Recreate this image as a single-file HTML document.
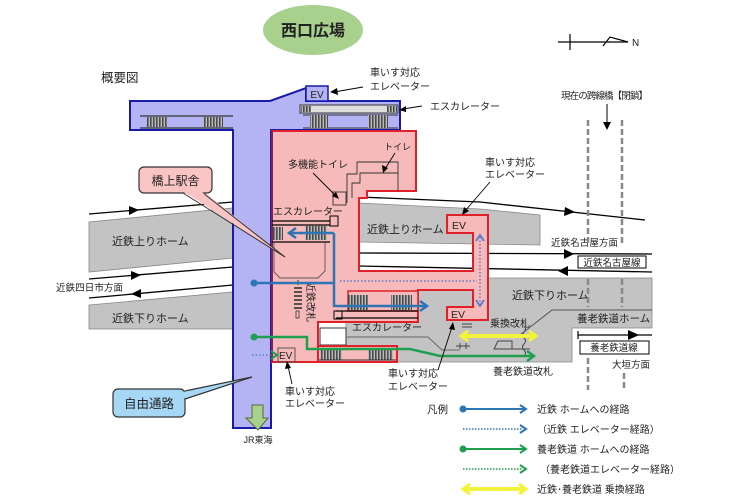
<!DOCTYPE html>
<html><head><meta charset="utf-8"><style>
html,body{margin:0;padding:0;background:#fff;}
svg{display:block;}
text{font-family:"Liberation Sans","Noto Sans CJK JP",sans-serif;fill:#222;}
</style></head><body>
<svg width="743" height="498" viewBox="0 0 743 498" xmlns="http://www.w3.org/2000/svg">
<defs>
<pattern id="hv" width="3" height="4" patternUnits="userSpaceOnUse"><rect width="3" height="4" fill="#bbb"/><rect width="1.6" height="4" fill="#4a4a4a"/></pattern>
</defs>

<!-- title ellipse -->
<ellipse cx="313" cy="30" rx="50" ry="25" fill="#a9d18e"/>
<text x="313" y="36" font-size="16" text-anchor="middle" font-weight="bold">西口広場</text>
<text x="101" y="82" font-size="12.5">概要図</text>

<!-- north arrow -->
<line x1="558" y1="42" x2="628" y2="42" stroke="#000" stroke-width="1.2"/>
<line x1="570" y1="34" x2="570" y2="50" stroke="#000" stroke-width="1.2"/>
<polyline points="603,46 610,37 628,42" fill="none" stroke="#000" stroke-width="1.2"/>
<text x="632" y="46" font-size="10">N</text>

<!-- closed bridge -->
<text x="561" y="99" font-size="9.5" textLength="87">現在の跨線橋【閉鎖】</text>
<line x1="607" y1="104" x2="607" y2="124" stroke="#000" stroke-width="1"/>
<polygon points="603,122 611,122 607,130" fill="#000"/>

<!-- left platforms -->
<polygon points="89,222 233,208 233,258 89,272" fill="#c3c3c3" stroke="#888" stroke-width="0.8"/>
<polygon points="89,305 233,292 233,329 89,329" fill="#c3c3c3" stroke="#888" stroke-width="0.8"/>
<line x1="89" y1="214" x2="233" y2="202" stroke="#000" stroke-width="1.3"/>
<polygon points="139,210 129,206 129,215" fill="#000"/>
<line x1="89" y1="279" x2="233" y2="267" stroke="#000" stroke-width="1.3"/>
<polygon points="141,275 131,271 131,280" fill="#000"/>
<line x1="89" y1="298" x2="233" y2="285" stroke="#000" stroke-width="1.3"/>
<polygon points="131,294 141,289 141,298" fill="#000"/>
<text x="112" y="245" font-size="11" fill="#333">近鉄上りホーム</text>
<text x="112" y="322" font-size="11" fill="#333">近鉄下りホーム</text>
<text x="56" y="291" font-size="9.5" textLength="67">近鉄四日市方面</text>

<!-- right platforms -->
<polygon points="359,203 480,209 540,215 540,245 359,242" fill="#c3c3c3" stroke="#888" stroke-width="0.8"/>
<polygon points="418,278 652,278 652,328 572,328 572,362 346,362 346,322 418,322" fill="#c3c3c3" stroke="#888" stroke-width="0.8"/>
<polyline points="359,197 480,202 645,220" fill="none" stroke="#000" stroke-width="1.3"/>
<polygon points="575,212 565,207 564,216" fill="#000"/>
<line x1="359" y1="253" x2="652" y2="254" stroke="#000" stroke-width="1.3"/>
<polygon points="574,254 564,249 564,259" fill="#000"/>
<line x1="359" y1="266" x2="652" y2="272" stroke="#000" stroke-width="1.3"/>
<polygon points="558,271 568,266 568,276" fill="#000"/>
<text x="551" y="246" font-size="9.5" textLength="67">近鉄名古屋方面</text>
<rect x="578" y="256" width="68" height="12" fill="#fff" stroke="#000" stroke-width="1"/>
<text x="612" y="266" font-size="9.5" text-anchor="middle">近鉄名古屋線</text>
<text x="512" y="299" font-size="11" fill="#333">近鉄下りホーム</text>
<path d="M520,335 L552,310 L652,310" fill="none" stroke="#555" stroke-width="1"/>
<text x="577" y="322" font-size="10.5" fill="#333">養老鉄道ホーム</text>
<line x1="578" y1="335" x2="652" y2="335" stroke="#000" stroke-width="1.3"/>
<line x1="578" y1="331" x2="578" y2="339" stroke="#000" stroke-width="1.2"/>
<polygon points="639,335 628,330 628,340" fill="#000"/>
<rect x="580" y="341" width="69" height="13" fill="#fff" stroke="#000" stroke-width="1"/>
<text x="614" y="351" font-size="9.5" text-anchor="middle">養老鉄道線</text>
<text x="612" y="368" font-size="9.5">大垣方面</text>

<!-- dashed closed bridge lines -->
<g stroke="#888" stroke-width="2.5" stroke-dasharray="6,3">
<line x1="588" y1="120" x2="588" y2="245"/>
<line x1="622" y1="120" x2="622" y2="245"/>
<line x1="588" y1="279" x2="588" y2="307"/>
<line x1="622" y1="279" x2="622" y2="307"/>
<line x1="588" y1="358" x2="588" y2="390"/>
<line x1="624" y1="373" x2="624" y2="390"/>
</g>

<!-- blue free passage -->
<polygon points="130,101 270,101 306,88 306,101 400,101 400,130 271,130 271,428 233,428 233,130 130,130" fill="#b4b4f5" stroke="#1a1aa8" stroke-width="2"/>
<rect x="306" y="86" width="22" height="15" fill="#b4b4f5" stroke="#1a1aa8" stroke-width="1.5"/>
<text x="317" y="98" font-size="10" text-anchor="middle">EV</text>
<!-- top-left escalators -->
<line x1="140" y1="116" x2="233" y2="116" stroke="#333" stroke-width="1.2"/>
<line x1="140" y1="128" x2="233" y2="128" stroke="#333" stroke-width="1.2"/>
<rect x="147" y="117" width="20" height="10" fill="url(#hv)"/>
<rect x="203" y="117" width="20" height="10" fill="url(#hv)"/>
<!-- top-right escalator -->
<rect x="300" y="105" width="98" height="8" fill="#ddd" stroke="#333" stroke-width="1"/>
<rect x="301" y="106" width="10" height="6" fill="url(#hv)"/>
<rect x="387" y="106" width="10" height="6" fill="url(#hv)"/>
<line x1="303" y1="115" x2="398" y2="115" stroke="#333" stroke-width="1"/>
<line x1="303" y1="128" x2="398" y2="128" stroke="#333" stroke-width="1"/>
<rect x="310" y="115" width="18" height="13" fill="url(#hv)"/>
<rect x="368" y="115" width="20" height="13" fill="url(#hv)"/>

<!-- pink station -->
<polygon points="272,131 416,131 416,191 367,191 367,198 359,198 359,271 473,271 473,233 447,233 447,215 488,215 488,320 447,320 447,307 473,307 473,290 418,290 418,322 318,322 318,346 397,346 397,362 272,362" fill="#f7baba" stroke="#e0202a" stroke-width="2"/>
<line x1="272" y1="131" x2="272" y2="362" stroke="#8a2050" stroke-width="2"/>
<text x="452" y="229" font-size="10.5">EV</text>
<text x="451" y="318" font-size="10.5">EV</text>
<text x="367" y="233" font-size="11" fill="#333">近鉄上りホーム</text>

<!-- toilets -->
<polyline points="347,203 347,174 357,174 357,162 398,162 398,190" fill="none" stroke="#333" stroke-width="0.9"/>
<polyline points="352,198 352,183 360,183 360,173 398,173" fill="none" stroke="#333" stroke-width="0.9"/>
<rect x="333" y="192" width="13" height="13" fill="none" stroke="#333" stroke-width="0.9"/>
<text x="288" y="168" font-size="10">多機能トイレ</text>
<line x1="313" y1="173" x2="336" y2="196" stroke="#000" stroke-width="0.9"/>
<polygon points="339,199 332,196 336,192" fill="#000"/>
<text x="384" y="150" font-size="9">トイレ</text>
<line x1="395" y1="153" x2="385" y2="169" stroke="#000" stroke-width="0.9"/>
<polygon points="383,173 382,165 388,168" fill="#000"/>

<!-- left escalator in pink -->
<text x="273" y="215" font-size="10">エスカレーター</text>
<line x1="272" y1="221" x2="330" y2="221" stroke="#000" stroke-width="1.3"/>
<line x1="272" y1="225" x2="330" y2="225" stroke="#000" stroke-width="1.3"/>
<rect x="330" y="216" width="8" height="10" fill="none" stroke="#000" stroke-width="1"/>
<rect x="273" y="227" width="10" height="13" fill="url(#hv)"/>
<rect x="305" y="226" width="22" height="14" fill="url(#hv)"/>
<line x1="272" y1="242" x2="330" y2="242" stroke="#000" stroke-width="1.3"/>
<path d="M274,243 L274,272 L280,278 L318,278 L325,271 L325,243" fill="none" stroke="#555" stroke-width="0.9"/>

<!-- gates -->
<line x1="298" y1="280" x2="298" y2="285" stroke="#333" stroke-width="1"/>
<g stroke="#333" stroke-width="1.6">
<line x1="294" y1="288" x2="302" y2="288"/><line x1="294" y1="292" x2="302" y2="292"/>
<line x1="294" y1="296" x2="302" y2="296"/><line x1="294" y1="300" x2="302" y2="300"/>
<line x1="294" y1="304" x2="302" y2="304"/><line x1="294" y1="308" x2="302" y2="308"/>
</g>
<rect x="296" y="311" width="3" height="7" fill="none" stroke="#333" stroke-width="0.8"/>
<text x="0" y="0" font-size="10" transform="translate(307,282) rotate(90)">近鉄改札</text>

<!-- kintetsu escalator -->
<rect x="348" y="291" width="70" height="20" fill="#f7baba" stroke="#e0202a" stroke-width="1.5"/>
<rect x="348" y="295" width="20" height="15" fill="url(#hv)"/>
<rect x="391" y="295" width="21" height="15" fill="url(#hv)"/>
<line x1="336" y1="311" x2="418" y2="311" stroke="#000" stroke-width="1.2"/>
<line x1="336" y1="318" x2="418" y2="318" stroke="#000" stroke-width="1.2"/>
<rect x="334" y="311" width="8" height="8" fill="none" stroke="#000" stroke-width="1"/>

<!-- yoro area -->
<rect x="320" y="328" width="26" height="17" fill="#fff" stroke="#333" stroke-width="1"/>
<text x="352" y="331" font-size="10" fill="#333">エスカレーター</text>
<path d="M347,337 L428,337 L442,350 L460,350" fill="none" stroke="#666" stroke-width="1"/>
<rect x="318" y="346" width="79" height="16" fill="#f7baba" stroke="#e0202a" stroke-width="2"/>
<rect x="320" y="348" width="22" height="12" fill="url(#hv)"/>
<rect x="368" y="348" width="25" height="12" fill="url(#hv)"/>
<line x1="319" y1="360" x2="396" y2="360" stroke="#333" stroke-width="1"/>
<g stroke="#444" stroke-width="1" fill="none">
<line x1="462" y1="324" x2="472" y2="324"/><line x1="462" y1="327" x2="472" y2="327"/>
<path d="M456,346 L470,346 M460,343 L460,349 M466,343 L466,349"/>
<path d="M494,349 L498,341 L512,341 L512,349 Z"/>
<path d="M524,326 q3,3 0,6 q-3,3 0,6 q3,3 0,6 q-3,3 0,6 q3,3 0,6"/>
<path d="M512,349 L530,349"/>
</g>
<text x="490" y="327" font-size="10" fill="#333">乗換改札</text>
<text x="493" y="375" font-size="10" fill="#333">養老鉄道改札</text>

<!-- lower-left EV -->
<rect x="278" y="348" width="17" height="14" fill="none" stroke="#555" stroke-width="1"/>
<text x="279" y="359" font-size="10">EV</text>

<!-- blue routes -->
<g stroke="#2e75b6" stroke-width="2.5" fill="none">
<polyline points="334,233 334,306 425,306"/>
<line x1="334" y1="233" x2="290" y2="233"/>
<polyline points="296,228 289,233 296,238"/>
<polyline points="420,301 427,306 420,311"/>
<line x1="254" y1="283" x2="334" y2="283"/>
</g>
<circle cx="254" cy="283" r="3.5" fill="#2e75b6"/>
<g stroke="#5b7fd0" stroke-width="1.5" fill="none">
<line x1="340" y1="281" x2="477" y2="281" stroke-dasharray="1.5,2"/>
<line x1="480" y1="237" x2="480" y2="304" stroke-dasharray="1.5,2"/>
<polyline points="476,241 480,235 484,241" stroke-width="2"/>
<polyline points="476,300 480,306 484,300" stroke-width="2"/>
</g>

<!-- green routes -->
<g stroke="#1fa04f" stroke-width="2.5" fill="none">
<polyline points="254,337 307,337 307,349 410,349 440,356 532,356"/>
<polyline points="527,351 534,356 527,361"/>
<polyline points="271,351 277,355 271,359" stroke-width="2"/>
</g>
<circle cx="254" cy="337" r="3.5" fill="#1fa04f"/>
<line x1="252" y1="355" x2="272" y2="355" stroke="#4a8fc0" stroke-width="1.5" stroke-dasharray="1.5,2"/>

<!-- yellow transfer -->
<g stroke="#f3f33a" stroke-width="4" fill="none">
<line x1="462" y1="336" x2="535" y2="336"/>
<polyline points="468,331 461,336 468,341" stroke-width="3"/>
<polyline points="529,331 536,336 529,341" stroke-width="3"/>
</g>

<!-- EV labels -->
<text x="370" y="76" font-size="10">車いす対応</text>
<text x="370" y="90" font-size="10">エレベーター</text>
<line x1="363" y1="87" x2="334" y2="92" stroke="#000" stroke-width="0.9"/>
<polygon points="330,92 337,88 338,95" fill="#000"/>
<text x="430" y="110" font-size="10">エスカレーター</text>
<line x1="422" y1="106" x2="403" y2="109" stroke="#000" stroke-width="0.9"/>
<polygon points="399,110 406,106 406,112" fill="#000"/>
<text x="485" y="166" font-size="10">車いす対応</text>
<text x="485" y="178" font-size="10">エレベーター</text>
<line x1="490" y1="182" x2="465" y2="211" stroke="#000" stroke-width="0.9"/>
<polygon points="462,215 464,207 469,211" fill="#000"/>
<text x="388" y="377" font-size="10">車いす対応</text>
<text x="388" y="390" font-size="10">エレベーター</text>
<line x1="438" y1="370" x2="452" y2="327" stroke="#000" stroke-width="0.9"/>
<polygon points="453,322 455,330 449,329" fill="#000"/>
<text x="285" y="395" font-size="10">車いす対応</text>
<text x="285" y="407" font-size="10">エレベーター</text>
<line x1="292" y1="384" x2="288" y2="366" stroke="#000" stroke-width="0.9"/>
<polygon points="287,361 291,368 285,369" fill="#000"/>

<!-- callout 橋上駅舎 -->
<polygon points="183,191 203,191 285,257" fill="#f9c4c4"/>
<line x1="183" y1="193" x2="285" y2="257" stroke="#333" stroke-width="1"/>
<line x1="203" y1="193" x2="285" y2="257" stroke="#333" stroke-width="1"/>
<rect x="139" y="167" width="73" height="26" rx="5" fill="#f9c4c4" stroke="#333" stroke-width="1.2"/>
<polygon points="184,192 202,192 205,195 186,195" fill="#f9c4c4"/>
<text x="175.5" y="185" font-size="12" text-anchor="middle">橋上駅舎</text>

<!-- callout 自由通路 -->
<polygon points="183,391 183,399 252,377" fill="#a6d7f5"/>
<line x1="185" y1="391" x2="252" y2="377" stroke="#333" stroke-width="1.2"/>
<line x1="185" y1="399" x2="252" y2="377" stroke="#333" stroke-width="1.2"/>
<rect x="113" y="389" width="72" height="28" rx="5" fill="#a6d7f5" stroke="#333" stroke-width="1.2"/>
<polygon points="184,392 187,391 187,398 184,398" fill="#a6d7f5"/>
<text x="149" y="408" font-size="12.5" text-anchor="middle">自由通路</text>

<!-- JR arrow -->
<polygon points="252,405 263,405 263,418 268,418 258,430 246,418 252,418" fill="#a9d18e" stroke="#556b2f" stroke-width="1"/>
<text x="258" y="443" font-size="9" text-anchor="middle">JR東海</text>

<!-- legend -->
<text x="427" y="413" font-size="10.5">凡例</text>
<circle cx="463" cy="409" r="3.5" fill="#2e75b6"/>
<line x1="463" y1="409" x2="525" y2="409" stroke="#2e75b6" stroke-width="2"/>
<polyline points="520,405 526,409 520,413" fill="none" stroke="#2e75b6" stroke-width="2"/>
<text x="537" y="413" font-size="10">近鉄 ホームへの経路</text>
<line x1="463" y1="429" x2="522" y2="429" stroke="#2e75b6" stroke-width="1.5" stroke-dasharray="1.5,1.5"/>
<polyline points="520,425 526,429 520,433" fill="none" stroke="#2e75b6" stroke-width="2"/>
<text x="537" y="433" font-size="10">（近鉄 エレベーター経路）</text>
<circle cx="463" cy="449" r="3.5" fill="#1fa04f"/>
<line x1="463" y1="449" x2="525" y2="449" stroke="#1fa04f" stroke-width="2"/>
<polyline points="520,445 526,449 520,453" fill="none" stroke="#1fa04f" stroke-width="2"/>
<text x="537" y="453" font-size="10">養老鉄道 ホームへの経路</text>
<line x1="463" y1="469" x2="522" y2="469" stroke="#1fa04f" stroke-width="1.5" stroke-dasharray="1.5,1.5"/>
<polyline points="520,465 526,469 520,473" fill="none" stroke="#1fa04f" stroke-width="2"/>
<text x="540" y="473" font-size="10">（養老鉄道エレベーター経路）</text>
<line x1="465" y1="489" x2="524" y2="489" stroke="#f3f33a" stroke-width="4"/>
<polyline points="470,484 463,489 470,494" fill="none" stroke="#f3f33a" stroke-width="3"/>
<polyline points="519,484 526,489 519,494" fill="none" stroke="#f3f33a" stroke-width="3"/>
<text x="537" y="493" font-size="10">近鉄･養老鉄道 乗換経路</text>
</svg>
</body></html>
